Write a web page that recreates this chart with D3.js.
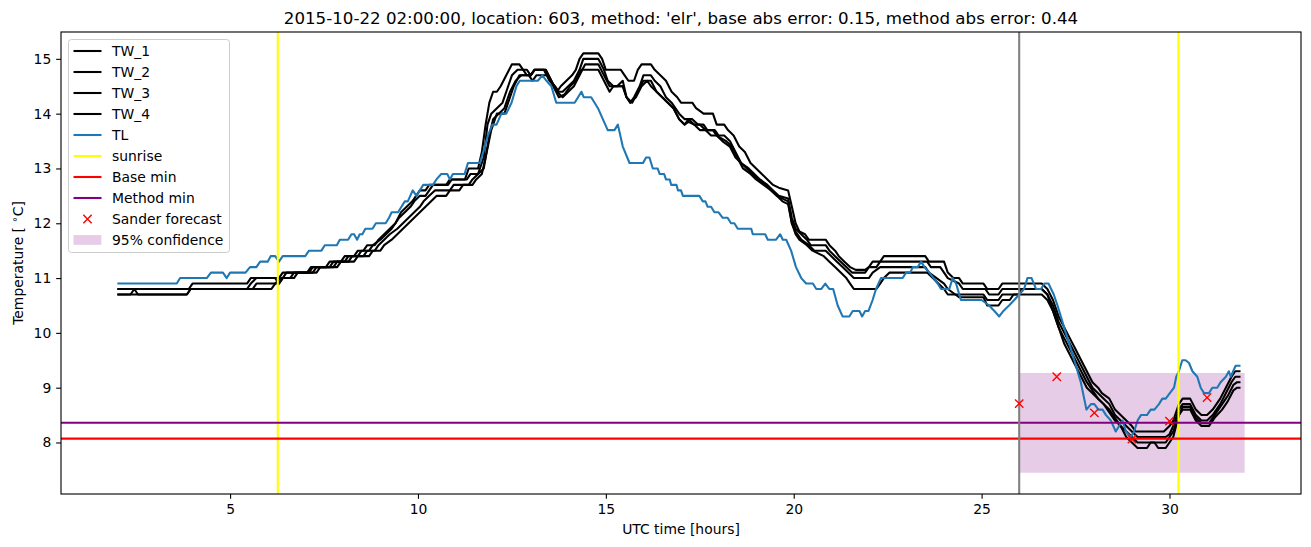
<!DOCTYPE html>
<html><head><meta charset="utf-8">
<script src="https://cdn.jsdelivr.net/npm/d3@7"></script>
<style>body{margin:0;background:#fff}svg{display:block}text{font-family:"DejaVu Sans",sans-serif}</style>
</head><body><svg id="c" width="1311" height="547"></svg>
<script>
const titleText = "2015-10-22 02:00:00, location: 603, method: 'elr', base abs error: 0.15, method abs error: 0.44";
const xTicks = [5, 10, 15, 20, 25, 30];
const yTicks = [8, 9, 10, 11, 12, 13, 14, 15];
const tl = [[2,10.9],[3.58,10.9],[3.67,11.0],[4.38,11.0],[4.49,11.1],[4.81,11.1],[4.91,11.0],[5.0,11.1],[5.41,11.1],[5.53,11.2],[5.7,11.2],[5.8,11.3],[6.0,11.3],[6.08,11.4],[6.2,11.4],[6.3,11.3],[6.4,11.4],[7.0,11.4],[7.1,11.5],[7.43,11.5],[7.52,11.6],[7.84,11.6],[7.92,11.7],[8.14,11.7],[8.23,11.8],[8.3,11.8],[8.38,11.7],[8.45,11.8],[8.52,11.8],[8.6,11.9],[8.79,11.9],[8.88,12.0],[9.14,12.0],[9.23,12.1],[9.3,12.2],[9.47,12.2],[9.56,12.3],[9.65,12.4],[9.73,12.4],[9.86,12.6],[9.96,12.5],[10.05,12.6],[10.14,12.7],[10.4,12.7],[10.49,12.8],[10.62,12.9],[10.78,12.9],[10.85,12.8],[10.93,12.9],[11.24,12.9],[11.33,13.1],[11.65,13.1],[11.78,13.4],[11.86,13.6],[11.98,13.8],[12.09,13.8],[12.22,14.0],[12.35,14.0],[12.49,14.2],[12.62,14.5],[12.71,14.6],[13.19,14.6],[13.31,14.7],[13.42,14.6],[13.55,14.5],[13.68,14.2],[14.17,14.2],[14.35,14.4],[14.41,14.3],[14.61,14.3],[14.79,14.1],[14.92,13.9],[15.05,13.7],[15.23,13.7],[15.32,13.8],[15.45,13.4],[15.63,13.1],[15.99,13.1],[16.07,13.2],[16.16,13.2],[16.25,13.0],[16.38,13.0],[16.43,12.9],[16.55,12.9],[16.6,12.8],[16.7,12.8],[16.74,12.7],[16.88,12.7],[16.92,12.6],[17.0,12.6],[17.05,12.5],[17.49,12.5],[17.58,12.4],[17.65,12.4],[17.71,12.3],[17.8,12.3],[17.89,12.2],[18.0,12.2],[18.11,12.1],[18.24,12.1],[18.33,12.0],[18.42,12.0],[18.51,11.9],[18.87,11.9],[18.91,11.8],[19.24,11.8],[19.31,11.7],[19.53,11.7],[19.64,11.8],[19.71,11.7],[19.8,11.7],[19.93,11.5],[20.06,11.2],[20.2,11.0],[20.33,10.9],[20.51,10.9],[20.6,10.8],[20.73,10.8],[20.84,10.9],[20.95,10.8],[21.05,10.8],[21.17,10.5],[21.3,10.3],[21.48,10.3],[21.57,10.4],[21.75,10.4],[21.82,10.3],[21.9,10.4],[21.99,10.4],[22.1,10.6],[22.19,10.8],[22.32,11.0],[22.9,11.0],[22.99,11.1],[23.1,11.1],[23.17,11.2],[23.3,11.2],[23.39,11.3],[23.48,11.2],[23.61,11.1],[23.72,11.0],[23.83,10.9],[23.92,10.8],[24.14,10.8],[24.23,11.0],[24.32,10.9],[24.45,10.6],[25.0,10.6],[25.2,10.5],[25.34,10.4],[25.47,10.3],[25.58,10.4],[25.73,10.5],[25.87,10.6],[26.0,10.7],[26.13,10.8],[26.22,11.0],[26.33,11.0],[26.45,10.8],[26.58,10.8],[26.67,10.9],[26.78,10.9],[26.85,10.8],[26.92,10.7],[27.02,10.5],[27.11,10.3],[27.24,10.0],[27.38,9.7],[27.51,9.4],[27.64,9.1],[27.73,8.8],[27.79,8.6],[27.91,8.7],[28.0,8.7],[28.11,8.6],[28.22,8.6],[28.31,8.5],[28.44,8.4],[28.57,8.2],[28.66,8.3],[28.75,8.4],[28.84,8.2],[28.97,8.1],[29.06,8.2],[29.15,8.4],[29.24,8.5],[29.4,8.5],[29.5,8.6],[29.6,8.6],[29.72,8.7],[29.81,8.8],[29.9,8.8],[30.01,8.9],[30.12,9.0],[30.18,9.2],[30.25,9.3],[30.34,9.5],[30.43,9.5],[30.52,9.45],[30.61,9.3],[30.74,9.2],[30.83,9.0],[30.92,8.9],[31.05,8.9],[31.14,9.0],[31.27,9.0],[31.36,9.1],[31.5,9.2],[31.58,9.3],[31.63,9.2],[31.76,9.4],[31.89,9.4]];
const tw1 = [[2,10.8],[3.9,10.8],[4.0,10.9],[5.45,10.9],[5.55,11.0],[6.3,11.0],[6.4,11.1],[7.05,11.1],[7.15,11.2],[7.55,11.2],[7.65,11.3],[7.95,11.3],[8.05,11.4],[8.3,11.4],[8.4,11.5],[8.55,11.5],[8.65,11.6],[8.85,11.6],[8.95,11.7],[9.1,11.8],[9.25,11.9],[9.4,12.0],[9.55,12.2],[9.7,12.3],[9.85,12.4],[9.95,12.5],[10.05,12.6],[10.2,12.6],[10.3,12.7],[10.75,12.7],[10.85,12.8],[11.25,12.8],[11.35,13.0],[11.6,13.0],[11.7,13.3],[11.8,13.8],[11.9,14.2],[12.0,14.4],[12.1,14.4],[12.2,14.5],[12.35,14.7],[12.5,14.9],[12.7,14.9],[12.8,14.8],[12.9,14.8],[13.0,14.7],[13.1,14.8],[13.4,14.8],[13.55,14.6],[13.7,14.4],[13.8,14.5],[13.95,14.6],[14.1,14.7],[14.2,14.8],[14.3,15.0],[14.4,15.1],[14.8,15.1],[14.9,15.0],[15.0,14.8],[15.4,14.8],[15.5,14.7],[15.6,14.6],[15.75,14.6],[15.85,14.8],[15.95,14.9],[16.2,14.9],[16.3,14.8],[16.45,14.7],[16.6,14.6],[16.75,14.4],[16.9,14.3],[17.0,14.2],[17.2,14.2],[17.3,14.2],[17.4,14.1],[17.6,14.0],[17.85,14.0],[17.95,13.8],[18.15,13.8],[18.25,13.7],[18.4,13.6],[18.55,13.4],[18.7,13.3],[18.85,13.1],[19.0,13.0],[19.15,12.9],[19.3,12.8],[19.45,12.7],[19.6,12.65],[19.85,12.6],[19.95,12.3],[20.05,12.0],[20.15,11.85],[20.3,11.8],[20.4,11.7],[20.85,11.7],[20.95,11.6],[21.1,11.5],[21.2,11.4],[21.35,11.3],[21.5,11.2],[21.65,11.15],[21.9,11.15],[22.0,11.2],[22.1,11.3],[22.3,11.3],[22.4,11.4],[23.5,11.4],[23.6,11.3],[24.0,11.3],[24.1,11.1],[24.25,11.0],[24.4,11.0],[24.5,10.9],[25.05,10.9],[25.15,10.8],[25.45,10.8],[25.55,10.9],[26.6,10.9],[26.75,10.8],[26.9,10.6],[27.05,10.3],[27.2,10.1],[27.35,9.9],[27.5,9.7],[27.65,9.5],[27.8,9.3],[27.95,9.1],[28.1,9.0],[28.2,8.9],[28.4,8.8],[28.55,8.6],[28.7,8.5],[28.85,8.4],[29.0,8.3],[29.1,8.2],[29.85,8.2],[30.0,8.3],[30.1,8.4],[30.25,8.7],[30.35,8.8],[30.55,8.8],[30.7,8.6],[30.85,8.5],[31.0,8.5],[31.15,8.6],[31.35,8.8],[31.5,9.0],[31.65,9.2],[31.75,9.3],[31.89,9.3]];
const tw2 = [[2,10.8],[5.45,10.8],[5.55,10.9],[5.7,11.0],[6.2,11.0],[6.3,10.9],[6.4,11.0],[6.5,11.1],[7.1,11.1],[7.2,11.2],[7.65,11.2],[7.75,11.3],[8.05,11.3],[8.15,11.4],[8.4,11.4],[8.5,11.5],[8.7,11.5],[8.8,11.6],[9.0,11.7],[9.15,11.8],[9.3,11.9],[9.5,12.1],[9.65,12.2],[9.8,12.3],[9.9,12.4],[10.05,12.5],[10.2,12.5],[10.3,12.6],[10.4,12.7],[10.8,12.7],[10.9,12.8],[11.3,12.8],[11.4,12.9],[11.6,12.9],[11.75,13.2],[11.85,13.8],[11.95,14.0],[12.1,14.1],[12.25,14.2],[12.4,14.5],[12.5,14.7],[12.65,14.8],[12.8,14.8],[12.9,14.7],[13.0,14.7],[13.1,14.8],[13.35,14.8],[13.5,14.6],[13.65,14.5],[13.75,14.4],[13.85,14.4],[14.0,14.5],[14.15,14.6],[14.3,14.8],[14.4,15.0],[14.8,15.0],[14.95,14.8],[15.05,14.6],[15.2,14.5],[15.45,14.5],[15.55,14.3],[15.65,14.2],[15.75,14.3],[15.9,14.5],[16.0,14.7],[16.2,14.7],[16.3,14.6],[16.45,14.5],[16.6,14.3],[16.75,14.2],[16.95,14.0],[17.1,13.9],[17.3,13.9],[17.45,13.8],[17.6,13.8],[17.7,13.7],[17.9,13.7],[18.0,13.6],[18.15,13.6],[18.3,13.5],[18.45,13.3],[18.6,13.1],[18.8,13.0],[18.95,12.9],[19.1,12.8],[19.3,12.7],[19.45,12.6],[19.6,12.5],[19.85,12.45],[19.95,12.1],[20.05,11.9],[20.2,11.8],[20.35,11.7],[20.45,11.6],[20.85,11.6],[20.95,11.5],[21.1,11.4],[21.25,11.3],[21.4,11.2],[21.55,11.1],[21.9,11.1],[22.0,11.2],[22.2,11.2],[22.3,11.3],[23.55,11.3],[23.65,11.2],[23.9,11.2],[24.0,11.1],[24.1,11.0],[24.4,10.9],[24.5,10.8],[25.1,10.8],[25.2,10.7],[25.45,10.7],[25.55,10.8],[26.6,10.8],[26.75,10.7],[26.9,10.5],[27.05,10.2],[27.2,10.0],[27.35,9.8],[27.5,9.6],[27.65,9.4],[27.8,9.2],[27.95,9.0],[28.1,8.9],[28.25,8.8],[28.4,8.7],[28.55,8.5],[28.7,8.4],[28.85,8.3],[29.0,8.2],[29.15,8.1],[29.9,8.1],[30.0,8.15],[30.1,8.3],[30.25,8.6],[30.35,8.7],[30.55,8.7],[30.7,8.5],[30.85,8.4],[31.0,8.4],[31.15,8.5],[31.35,8.7],[31.5,8.9],[31.65,9.1],[31.75,9.2],[31.89,9.2]];
const tw3 = [[2,10.7],[2.35,10.7],[2.45,10.8],[2.55,10.7],[3.85,10.7],[3.95,10.8],[5.6,10.8],[5.7,10.9],[6.3,10.9],[6.4,11.0],[6.6,11.0],[6.7,11.1],[7.2,11.1],[7.3,11.2],[7.75,11.2],[7.85,11.3],[8.15,11.3],[8.25,11.4],[8.55,11.4],[8.65,11.5],[8.85,11.5],[8.95,11.6],[9.1,11.7],[9.25,11.8],[9.45,11.9],[9.6,12.0],[9.75,12.1],[9.9,12.2],[10.05,12.3],[10.15,12.4],[10.3,12.5],[10.45,12.6],[10.85,12.6],[10.95,12.7],[11.35,12.7],[11.45,12.8],[11.6,12.9],[11.75,13.0],[11.9,13.6],[12.0,13.9],[12.15,14.0],[12.3,14.1],[12.45,14.4],[12.6,14.6],[12.75,14.7],[13.0,14.7],[13.1,14.8],[13.4,14.8],[13.55,14.6],[13.7,14.4],[13.85,14.3],[14.0,14.4],[14.15,14.5],[14.3,14.7],[14.45,14.9],[14.8,14.9],[14.95,14.7],[15.1,14.5],[15.3,14.5],[15.45,14.6],[15.55,14.3],[15.7,14.2],[15.85,14.4],[16.0,14.6],[16.2,14.6],[16.35,14.4],[16.5,14.3],[16.65,14.2],[16.8,14.1],[16.95,13.9],[17.1,13.8],[17.2,13.9],[17.35,13.8],[17.5,13.8],[17.65,13.7],[17.85,13.7],[17.95,13.6],[18.2,13.5],[18.35,13.4],[18.5,13.2],[18.65,13.0],[18.85,12.9],[19.0,12.8],[19.2,12.7],[19.4,12.6],[19.55,12.5],[19.85,12.4],[19.95,12.0],[20.05,11.85],[20.2,11.7],[20.4,11.6],[20.55,11.5],[20.85,11.5],[21.0,11.4],[21.15,11.3],[21.3,11.2],[21.45,11.1],[21.6,11.0],[22.0,11.0],[22.1,11.1],[22.3,11.2],[23.5,11.2],[23.6,11.1],[23.8,11.0],[24.0,10.9],[24.1,10.8],[24.3,10.7],[25.05,10.7],[25.15,10.6],[25.45,10.6],[25.55,10.7],[26.0,10.7],[26.05,10.8],[26.6,10.8],[26.75,10.7],[26.9,10.4],[27.05,10.1],[27.2,9.9],[27.35,9.7],[27.5,9.5],[27.65,9.3],[27.8,9.1],[27.95,8.95],[28.1,8.8],[28.25,8.7],[28.4,8.6],[28.55,8.45],[28.7,8.3],[28.85,8.2],[29.0,8.1],[29.15,8.0],[29.9,8.0],[30.0,8.1],[30.1,8.2],[30.25,8.5],[30.35,8.65],[30.55,8.65],[30.7,8.45],[30.85,8.35],[31.05,8.35],[31.2,8.5],[31.4,8.7],[31.55,8.85],[31.7,9.05],[31.8,9.1],[31.89,9.1]];
const tw4 = [[2,10.7],[3.85,10.7],[3.95,10.8],[6.1,10.8],[6.2,10.9],[6.35,11.0],[6.7,11.0],[6.8,11.1],[7.3,11.1],[7.4,11.2],[7.85,11.2],[7.95,11.3],[8.3,11.3],[8.4,11.4],[8.7,11.4],[8.8,11.5],[9.0,11.5],[9.1,11.6],[9.3,11.7],[9.45,11.8],[9.6,11.9],[9.75,12.0],[9.9,12.1],[10.05,12.2],[10.2,12.3],[10.35,12.4],[10.5,12.5],[10.75,12.5],[10.85,12.6],[11.1,12.6],[11.2,12.7],[11.45,12.7],[11.55,12.8],[11.7,12.9],[11.8,13.2],[11.95,13.7],[12.1,14.0],[12.3,14.0],[12.45,14.3],[12.55,14.5],[12.7,14.7],[12.95,14.7],[13.05,14.6],[13.15,14.7],[13.45,14.7],[13.6,14.5],[13.75,14.3],[13.9,14.35],[14.05,14.5],[14.2,14.6],[14.35,14.8],[14.8,14.8],[14.95,14.6],[15.1,14.4],[15.2,14.5],[15.45,14.5],[15.55,14.3],[15.65,14.2],[15.8,14.3],[15.95,14.5],[16.1,14.6],[16.2,14.5],[16.35,14.4],[16.5,14.3],[16.65,14.2],[16.8,14.1],[16.95,13.9],[17.09,13.8],[17.2,13.85],[17.35,13.8],[17.5,13.7],[17.65,13.7],[17.8,13.6],[17.95,13.6],[18.1,13.5],[18.3,13.4],[18.45,13.2],[18.6,13.1],[18.75,13.0],[18.9,12.9],[19.05,12.8],[19.25,12.7],[19.4,12.6],[19.55,12.5],[19.7,12.4],[19.85,12.35],[19.95,12.0],[20.05,11.8],[20.15,11.7],[20.35,11.6],[20.5,11.5],[20.8,11.4],[20.95,11.3],[21.1,11.2],[21.25,11.1],[21.4,11.0],[21.5,10.9],[21.6,10.8],[22.2,10.8],[22.3,10.9],[22.4,11.0],[22.55,11.1],[23.55,11.1],[23.7,11.0],[23.85,10.9],[24.0,10.8],[24.1,10.7],[24.3,10.7],[24.4,10.65],[25.05,10.65],[25.15,10.5],[25.45,10.5],[25.55,10.6],[25.75,10.6],[25.85,10.7],[26.6,10.7],[26.75,10.6],[26.9,10.4],[27.05,10.1],[27.2,9.8],[27.35,9.6],[27.5,9.4],[27.65,9.2],[27.8,9.0],[27.95,8.9],[28.1,8.8],[28.25,8.7],[28.4,8.55],[28.55,8.4],[28.7,8.3],[28.85,8.1],[29.0,8.0],[29.15,7.9],[29.4,7.9],[29.5,8.0],[29.6,8.0],[29.7,7.9],[29.9,7.9],[30.0,8.0],[30.1,8.1],[30.25,8.5],[30.35,8.6],[30.55,8.6],[30.7,8.4],[30.85,8.3],[31.05,8.3],[31.2,8.45],[31.4,8.6],[31.55,8.75],[31.7,8.95],[31.8,9.0],[31.89,9.0]];
const sunrise = [6.27, 30.24];
const forecastStart = 26;
const baseMin = 8.07;
const methodMin = 8.36;
const sanderForecast = [[26,8.71],[27,9.2],[28,8.54],[29,8.06],[30,8.39],[31,8.82]];
const confX = [26, 32];
const confLow = 7.45;
const confHigh = 9.27;
const legendLabels = ["TW_1","TW_2","TW_3","TW_4","TL","sunrise","Base min","Method min","Sander forecast","95% confidence"];

const svg = d3.select("#c");
const L = 61, R = 1301, T = 32, B = 494;
const LW = 2.08;
const x = d3.scaleLinear().domain([0.5, 33.5]).range([L, R]);
const y = d3.scaleLinear().domain([7.06, 15.49]).range([B, T]);

svg.append("defs").append("clipPath").attr("id","clip").append("rect")
  .attr("x",L).attr("y",T).attr("width",R-L).attr("height",B-T);
const g = svg.append("g").attr("clip-path","url(#clip)");

g.append("path")
  .datum(confX)
  .attr("d", d3.area().x(d=>x(d)).y0(y(confLow)).y1(y(confHigh)))
  .attr("fill","purple").attr("fill-opacity",0.2);

const line = d3.line().x(d=>x(d[0])).y(d=>y(d[1]));
[tw1,tw2,tw3,tw4].forEach(s=>{
  g.append("path").datum(s).attr("d",line).attr("fill","none")
   .attr("stroke","#000").attr("stroke-width",LW).attr("stroke-linejoin","round");
});
g.append("path").datum(tl).attr("d",line).attr("fill","none")
  .attr("stroke","#1f77b4").attr("stroke-width",LW).attr("stroke-linejoin","round");

sunrise.forEach(s=>{
  g.append("line").attr("x1",x(s)).attr("x2",x(s)).attr("y1",T).attr("y2",B)
   .attr("stroke","yellow").attr("stroke-width",LW);
});
g.append("line").attr("x1",L).attr("x2",R).attr("y1",y(baseMin)).attr("y2",y(baseMin))
  .attr("stroke","red").attr("stroke-width",LW);
g.append("line").attr("x1",L).attr("x2",R).attr("y1",y(methodMin)).attr("y2",y(methodMin))
  .attr("stroke","purple").attr("stroke-width",LW);
g.append("line").attr("x1",x(forecastStart)).attr("x2",x(forecastStart)).attr("y1",T).attr("y2",B)
  .attr("stroke","gray").attr("stroke-width",LW);

const xm = 4.17;
sanderForecast.forEach(d=>{
  const cx = x(d[0]), cy = y(d[1]);
  g.append("path").attr("d",`M${cx-xm},${cy-xm}L${cx+xm},${cy+xm}M${cx-xm},${cy+xm}L${cx+xm},${cy-xm}`)
   .attr("stroke","red").attr("stroke-width",1.39).attr("fill","none");
});

const fs = 13.9;
const tk = 4.86;
const xAxis = svg.append("g").attr("transform",`translate(0,${B})`)
  .call(d3.axisBottom(x).tickValues(xTicks).tickSize(tk).tickPadding(tk).tickFormat(d3.format("d")));
const yAxis = svg.append("g").attr("transform",`translate(${L},0)`)
  .call(d3.axisLeft(y).tickValues(yTicks).tickSize(tk).tickPadding(tk).tickFormat(d3.format("d")));
[xAxis,yAxis].forEach(a=>{
  a.select(".domain").remove();
  a.selectAll("line").attr("stroke","#000").attr("stroke-width",1.11);
  a.selectAll("text").attr("fill","#000").style("font-size",fs+"px").style("font-family","DejaVu Sans");
});
svg.append("rect").attr("x",L).attr("y",T).attr("width",R-L).attr("height",B-T)
  .attr("fill","none").attr("stroke","#000").attr("stroke-width",1.11);

svg.append("text").attr("x",(L+R)/2).attr("y",24).attr("text-anchor","middle")
  .style("font-size","16.67px").text(titleText);
svg.append("text").attr("x",(L+R)/2).attr("y",534).attr("text-anchor","middle")
  .style("font-size",fs+"px").text("UTC time [hours]");
const yl = svg.append("text").attr("transform",`translate(23,${(T+B)/2}) rotate(-90)`)
  .attr("text-anchor","middle").style("font-size",fs+"px");
yl.append("tspan").text("Temperature [ ");
yl.append("tspan").text("∘").attr("dy",-5).style("font-size","10px");
yl.append("tspan").text("C]").attr("dy",5);

const lg = svg.append("g");
lg.append("rect").attr("x",68.5).attr("y",39.5).attr("width",161).attr("height",213).attr("rx",3)
  .attr("fill","#fff").attr("fill-opacity",0.8).attr("stroke","#ccc").attr("stroke-width",1);
const legendStyles = [
  {t:"line",c:"#000"},{t:"line",c:"#000"},{t:"line",c:"#000"},{t:"line",c:"#000"},
  {t:"line",c:"#1f77b4"},{t:"line",c:"yellow"},{t:"line",c:"red"},{t:"line",c:"purple"},
  {t:"x",c:"red"},{t:"patch",c:"purple"}];
legendLabels.forEach((lab,i)=>{
  const cy = 51 + i*21.0;
  const st = legendStyles[i];
  if (st.t==="line") {
    lg.append("line").attr("x1",73.5).attr("x2",101.5).attr("y1",cy).attr("y2",cy)
      .attr("stroke",st.c).attr("stroke-width",LW);
  } else if (st.t==="x") {
    const cx = 87.5;
    lg.append("path").attr("d",`M${cx-xm},${cy-xm}L${cx+xm},${cy+xm}M${cx-xm},${cy+xm}L${cx+xm},${cy-xm}`)
      .attr("stroke",st.c).attr("stroke-width",1.39);
  } else {
    lg.append("rect").attr("x",73.5).attr("y",cy-4.9).attr("width",27.8).attr("height",9.7)
      .attr("fill",st.c).attr("fill-opacity",0.2);
  }
  lg.append("text").attr("x",112).attr("y",cy+5).style("font-size",fs+"px").text(lab);
});
</script></body></html>
